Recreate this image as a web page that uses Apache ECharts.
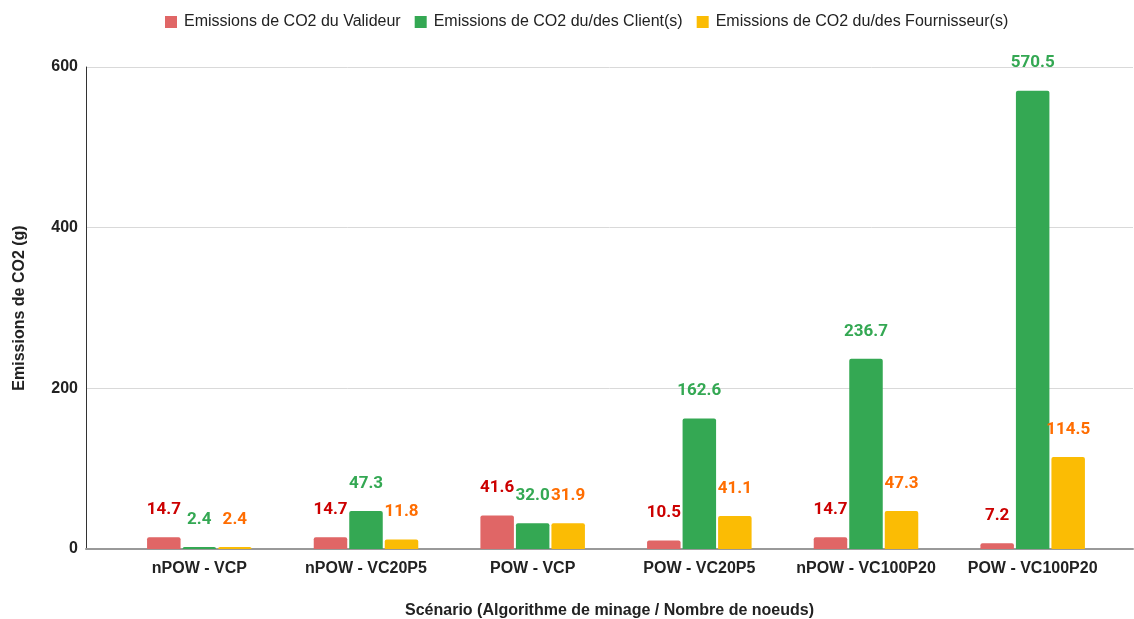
<!DOCTYPE html>
<html>
<head>
<meta charset="utf-8">
<script src="https://cdn.jsdelivr.net/npm/echarts@6/dist/echarts.min.js"></script>
<style>
  html, body { margin: 0; padding: 0; background: #fff; }
  #chart { width: 1134px; height: 619px; }
</style>
</head>
<body>
<div id="chart"></div>
<script>
// Scenarios and CO2 emissions (g) per role
const categories = ['nPOW - VCP', 'nPOW - VC20P5', 'POW - VCP', 'POW - VC20P5', 'nPOW - VC100P20', 'POW - VC100P20'];
const validateur = [14.7, 14.7, 41.6, 10.5, 14.7, 7.2];
const clients = [2.4, 47.3, 32.0, 162.6, 236.7, 570.5];
const fournisseurs = [2.4, 11.8, 31.9, 41.1, 47.3, 114.5];
const seriesNames = [
  'Emissions de CO2 du Valideur',
  'Emissions de CO2 du/des Client(s)',
  'Emissions de CO2 du/des Fournisseur(s)'
];
const yTicks = { min: 0, max: 600, interval: 200 };

const barColors = ['#e06666', '#34a853', '#fbbc04'];
const labelColors = ['#cc0000', '#34a853', '#ff6d01'];
const axisFont = 'Liberation Sans, Arial, sans-serif';

const chart = echarts.init(document.getElementById('chart'));

function barSeries(i, data) {
  return {
    name: seriesNames[i],
    type: 'bar',
    xAxisIndex: 1,
    yAxisIndex: 1,
    data: data,
    barWidth: 33.5,
    barGap: '6%',
    itemStyle: { color: barColors[i], borderRadius: [2, 2, 0, 0] },
    label: {
      show: true,
      position: 'top',
      distance: 19,
      color: labelColors[i],
      fontFamily: 'Roboto, sans-serif',
      fontWeight: 'bold',
      fontSize: 17,
      formatter: p => p.value.toFixed(1)
    },
    emphasis: { disabled: true }
  };
}

chart.setOption({
  animation: false,
  legend: {
    top: 9,
    left: 160,
    itemWidth: 12,
    itemHeight: 12,
    itemGap: 14,
    icon: 'rect',
    textStyle: { fontFamily: axisFont, fontSize: 16, color: '#222', padding: [0, 0, 0, 2] },
    data: seriesNames
  },
  grid: [
    { left: 86, right: 1, top: 67, bottom: 70, outerBoundsMode: 'none' },
    { left: 116, width: 1000, top: 67, bottom: 70, outerBoundsMode: 'none' }
  ],
  xAxis: [
    {
      gridIndex: 0,
      type: 'category',
      data: [''],
      axisLine: { lineStyle: { color: '#999', width: 2 } },
      axisTick: { show: false },
      axisLabel: { show: false },
      name: 'Scénario (Algorithme de minage / Nombre de noeuds)',
      nameLocation: 'middle',
      nameGap: 54,
      nameTextStyle: { fontFamily: axisFont, fontWeight: 'bold', fontSize: 16, color: '#222' }
    },
    {
      gridIndex: 1,
      type: 'category',
      data: categories,
      axisLine: { show: false },
      axisTick: { show: false },
      axisLabel: {
        interval: 0,
        margin: 12,
        fontFamily: axisFont,
        fontWeight: 'bold',
        fontSize: 16,
        color: '#222'
      }
    }
  ],
  yAxis: [
    {
      gridIndex: 0,
      type: 'value',
      min: yTicks.min,
      max: yTicks.max,
      interval: yTicks.interval,
      axisLine: { show: true, lineStyle: { color: '#333', width: 1 } },
      axisTick: { show: false },
      splitLine: { lineStyle: { color: '#d9d9d9', width: 1 } },
      axisLabel: {
        margin: 8,
        fontFamily: axisFont,
        fontWeight: 'bold',
        fontSize: 16,
        color: '#222'
      },
      name: 'Emissions de CO2 (g)',
      nameLocation: 'middle',
      nameGap: 58,
      nameTextStyle: { fontFamily: axisFont, fontWeight: 'bold', fontSize: 16, color: '#222' }
    },
    {
      gridIndex: 1,
      type: 'value',
      min: yTicks.min,
      max: yTicks.max,
      interval: yTicks.interval,
      show: false
    }
  ],
  series: [
    barSeries(0, validateur),
    barSeries(1, clients),
    barSeries(2, fournisseurs)
  ]
});
</script>
</body>
</html>
